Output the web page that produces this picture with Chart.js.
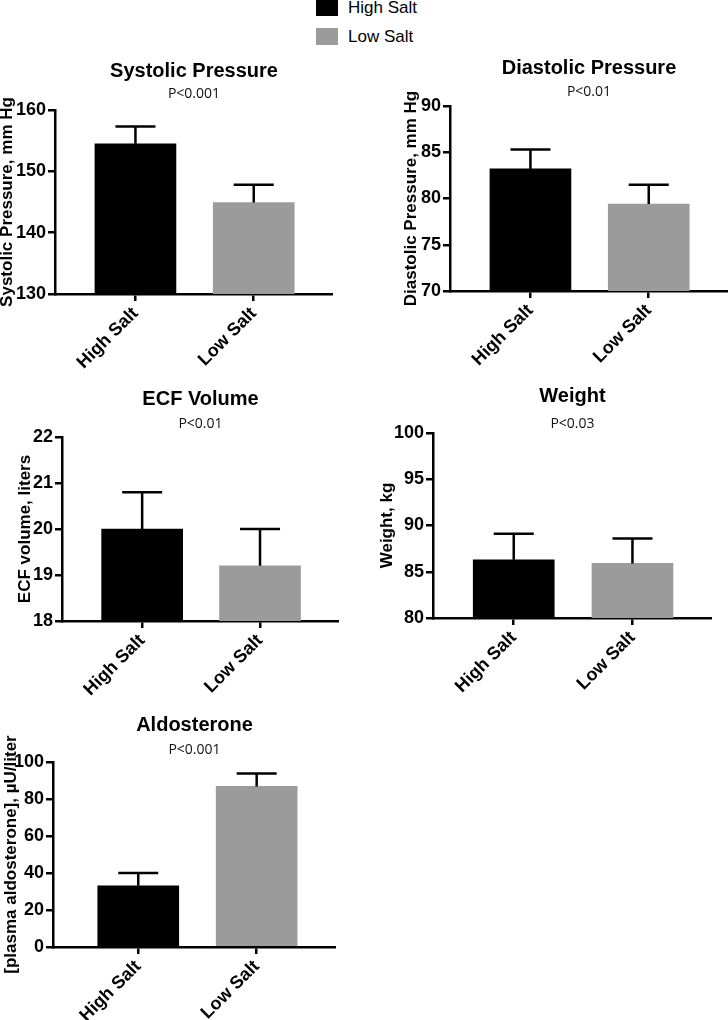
<!DOCTYPE html>
<html><head><meta charset="utf-8">
<script src="https://cdn.jsdelivr.net/npm/chart.js@4.4.1/dist/chart.umd.min.js"></script>
<style>
html,body{margin:0;padding:0;background:#fff;width:728px;height:1020px;overflow:hidden;position:relative}
canvas{position:absolute}
.lg{position:absolute;font:17px "Liberation Sans",Arial,sans-serif;line-height:20px;color:#000;white-space:nowrap}
.sw{position:absolute;width:22px}
</style></head><body>
<div id="legend"></div>
<script>
// ---- data ----
const categories = ['High Salt', 'Low Salt'];
const seriesColors = ['#000000', '#9b9b9b'];
const panelTitles = ['Systolic Pressure', 'Diastolic Pressure', 'ECF Volume', 'Weight', 'Aldosterone'];
const pValues = ['P<0.001', 'P<0.01', 'P<0.01', 'P<0.03', 'P<0.001'];
const yAxisTitles = ['Systolic Pressure, mm Hg', 'Diastolic Pressure, mm Hg', 'ECF volume, liters', 'Weight, kg', '[plasma aldosterone], \u00b5U/liter'];
const systolicMeans = [154.5, 144.9];
const systolicErr = [2.8, 2.9];
const diastolicMeans = [83.2, 79.4];
const diastolicErr = [2.1, 2.1];
const ecfMeans = [20.0, 19.2];
const ecfErr = [0.8, 0.8];
const weightMeans = [86.3, 85.9];
const weightErr = [2.8, 2.7];
const aldoMeans = [33.1, 86.8];
const aldoErr = [6.9, 7.0];
const yMins = [130, 70, 18, 80, 0];
const yMaxs = [160, 90, 22, 100, 100];
const ySteps = [10, 5, 1, 5, 20];

const allMeans = [systolicMeans, diastolicMeans, ecfMeans, weightMeans, aldoMeans];
const allErrs = [systolicErr, diastolicErr, ecfErr, weightErr, aldoErr];

// ---- layout (pixel geometry of each panel) ----
const geom = [
  {L:55,  T:110, R:333, B:294, tc:71,  sc:94,  yc:7.5, xmin:-0.68},
  {L:450, T:106, R:728, B:291, tc:68,  sc:92,  yc:411, xmin:-0.68},
  {L:62,  T:437, R:339, B:621, tc:399, sc:424, yc:25,  xmin:-0.68},
  {L:433, T:433, R:712, B:618, tc:396, sc:424, yc:387, xmin:-0.68},
  {L:53,  T:762, R:336, B:947, tc:725, sc:750, yc:11,  xmin:-0.72}
];
const FONT = '"Liberation Sans", Arial, Helvetica, sans-serif';
const XH = 95;

// legend
const lg = document.getElementById('legend');
categories.forEach((c, i) => {
  const sw = document.createElement('div');
  sw.className = 'sw';
  sw.style.left = '316px';
  sw.style.top = (i === 0 ? -2 : 28) + 'px';
  sw.style.height = (i === 0 ? 18 : 17) + 'px';
  sw.style.background = seriesColors[i];
  lg.appendChild(sw);
  const t = document.createElement('div');
  t.className = 'lg';
  t.style.left = '348px';
  t.style.top = (i === 0 ? -2 : 27) + 'px';
  t.textContent = c;
  lg.appendChild(t);
});

const errorBars = {
  id: 'errorBars',
  afterDatasetsDraw(chart, args, opts) {
    const {ctx} = chart;
    const x = chart.scales.x, y = chart.scales.y;
    opts.means.forEach((m, i) => {
      const px = x.getPixelForValue(i);
      const y0 = y.getPixelForValue(m);
      const y1 = y.getPixelForValue(m + opts.errs[i]);
      ctx.save();
      ctx.strokeStyle = '#000';
      ctx.lineWidth = 2.5;
      ctx.beginPath();
      ctx.moveTo(px, y0); ctx.lineTo(px, y1);
      ctx.moveTo(px - 20, y1); ctx.lineTo(px + 20, y1);
      ctx.stroke();
      ctx.restore();
    });
  }
};

geom.forEach((g, k) => {
  const CL = Math.round(g.yc - 8.5);
  const CT = g.tc - 12;
  const W = g.R - CL;
  const H = g.B + XH - CT;
  const yW = g.L - CL;
  const c = g.sc - (CT + 24 + 8.4);
  const d = g.T - (CT + 24 + c + 16.8);
  const cv = document.createElement('canvas');
  cv.width = W; cv.height = H;
  cv.style.left = CL + 'px'; cv.style.top = CT + 'px';
  cv.style.width = W + 'px'; cv.style.height = H + 'px';
  document.body.appendChild(cv);
  new Chart(cv, {
    type: 'bar',
    data: {
      datasets: [{
        data: allMeans[k].map((m, i) => ({x: i, y: m})),
        backgroundColor: seriesColors,
        borderWidth: 0,
        barThickness: 81
      }]
    },
    options: {
      responsive: false,
      animation: false,
      devicePixelRatio: 1,
      layout: {padding: 0},
      plugins: {
        legend: {display: false},
        tooltip: {enabled: false},
        title: {display: true, text: panelTitles[k], fullSize: false, color: '#000',
          font: {family: FONT, size: 20, weight: 'bold', lineHeight: 1.2}, padding: {top: 0, bottom: 0}},
        subtitle: {display: true, text: pValues[k], fullSize: false, color: '#111',
          font: {family: '"Open Sans", sans-serif', size: 14, lineHeight: 1.2}, padding: {top: c, bottom: d}},
        errorBars: {means: allMeans[k], errs: allErrs[k]}
      },
      scales: {
        x: {
          type: 'linear', min: g.xmin, max: 1.67, offset: false,
          afterBuildTicks: s => { s.ticks = categories.map((_, i) => ({value: i})); },
          afterFit: s => { s.height = XH; },
          ticks: {callback: v => categories[v], minRotation: 45, maxRotation: 45, autoSkip: false,
            color: '#000', padding: 2, font: {family: FONT, size: 18, weight: 'bold'}},
          grid: {drawOnChartArea: false, drawTicks: true, tickLength: 7, color: '#000', lineWidth: 2.5, offset: false},
          border: {display: true, color: '#000', width: 2.5}
        },
        y: {
          type: 'linear', min: yMins[k], max: yMaxs[k],
          afterFit: s => { s.width = yW; },
          ticks: {stepSize: ySteps[k], color: '#000', padding: 2, font: {family: FONT, size: 18, weight: 'bold'}},
          grid: {drawOnChartArea: false, drawTicks: true, tickLength: 7, color: '#000', lineWidth: 2.5},
          border: {display: true, color: '#000', width: 2.5},
          title: {display: true, text: yAxisTitles[k], color: '#000', padding: 0,
            font: {family: FONT, size: 17, weight: 'bold', lineHeight: 1}}
        }
      }
    },
    plugins: [errorBars]
  });
});
</script>
</body></html>
